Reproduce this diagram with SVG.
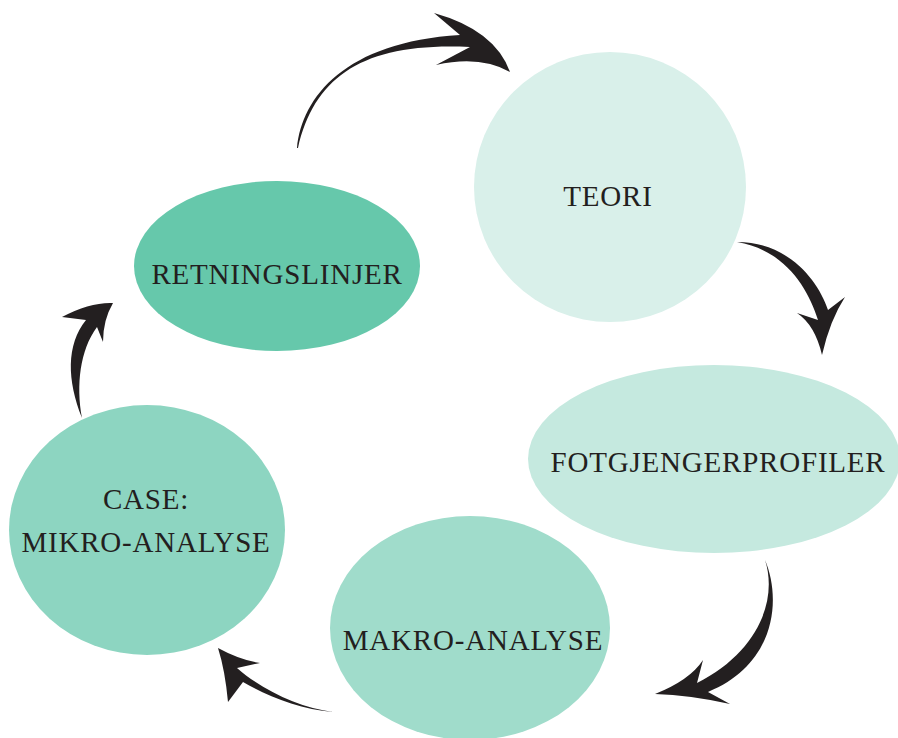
<svg xmlns="http://www.w3.org/2000/svg" width="898" height="738" viewBox="0 0 898 738">
  <style>
    .label { font-family: "Liberation Serif", "Times New Roman", serif; font-size: 29px; fill: #231f20; text-anchor: middle; letter-spacing: 0.8px; }
    .arrow { fill: #231f20; stroke: none; }
  </style>
  <rect width="898" height="738" fill="#ffffff"/>

  <g id="teori">
    <ellipse cx="610" cy="187" rx="136" ry="135" fill="#d9f0ea"/>
    <text class="label" x="608" y="206">TEORI</text>
  </g>

  <g id="retningslinjer">
    <ellipse cx="277" cy="266" rx="143" ry="85" fill="#66c8ab"/>
    <text class="label" x="277" y="284">RETNINGSLINJER</text>
  </g>

  <g id="fotgjengerprofiler">
    <ellipse cx="714" cy="459" rx="186" ry="94" fill="#c5e9df"/>
    <text class="label" x="718" y="472">FOTGJENGERPROFILER</text>
  </g>

  <g id="makro-analyse">
    <ellipse cx="470" cy="628" rx="140" ry="112" fill="#a0dccb"/>
    <text class="label" x="473" y="650">MAKRO-ANALYSE</text>
  </g>

  <g id="case-mikro-analyse">
    <ellipse cx="147" cy="530" rx="138" ry="125" fill="#8dd5c1"/>
    <text class="label" x="146" y="509">CASE:</text>
    <text class="label" x="146" y="552">MIKRO-ANALYSE</text>
  </g>

  <g id="connectors">
    <!-- retningslinjer -> teori -->
    <path class="arrow" d="M 297,148 C 302,97 345,42 460,35 L 434,13 Q 495,30 510,72 Q 480,55 436,65 L 470,47 C 365,42 315,75 298,148 Z"/>
    <!-- teori -> fotgjengerprofiler -->
    <path class="arrow" d="M 737,242 C 788,242 818,280 828,310 L 845,297 Q 830,320 822,355 Q 815,325 797,313 L 818,320 C 808,288 785,250 737,242 Z"/>
    <!-- fotgjengerprofiler -> makro-analyse -->
    <path class="arrow" d="M 765,560 C 782,600 775,665 708,692 L 730,704 Q 690,695 655,694 Q 690,680 703,660 L 697,683 C 758,652 778,600 765,560 Z"/>
    <!-- makro-analyse -> case -->
    <path class="arrow" d="M 333,712 C 300,710 265,695 243,682 L 228,702 Q 225,670 218,648 Q 240,660 260,663 L 237,668 C 262,690 300,708 333,712 Z"/>
    <!-- case -> retningslinjer -->
    <path class="arrow" d="M 82,418 C 67,380 66,345 86,320 L 62,317 Q 90,302 113,303 Q 103,320 103,342 L 97,327 C 80,350 76,385 82,418 Z"/>
  </g>
</svg>
